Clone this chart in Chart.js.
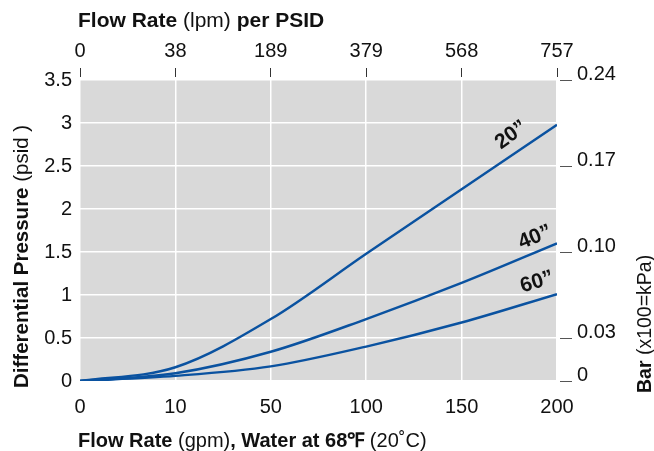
<!DOCTYPE html>
<html>
<head>
<meta charset="utf-8">
<script src="https://cdn.jsdelivr.net/npm/chart.js@4.4.1/dist/chart.umd.min.js"></script>
<style>
  html, body { margin: 0; padding: 0; background: #fff; }
  #wrap { width: 654px; height: 451px; }
</style>
</head>
<body>
<div id="wrap"><canvas id="flowChart" width="654" height="451"></canvas></div>
<script>
// flow rate tick labels (positions are evenly spaced on the chart)
const gpmLabels = ["0", "10", "50", "100", "150", "200"]
const lpmLabels = ["0", "38", "189", "379", "568", "757"]

// differential pressure (psid) at each flow tick
const size20 = [0, 0.16, 0.72, 1.48, 2.23, 2.98]
const size40 = [0, 0.09, 0.34, 0.72, 1.14, 1.60]
const size60 = [0, 0.06, 0.17, 0.40, 0.68, 1.01]

// right axis: bar labels at matching psid positions
const barTickPsi = [0, 0.5, 1.5, 2.5, 3.5]
const barTickLabels = ["0", "0.03", "0.10", "0.17", "0.24"]

const curveNames = ["20\u201D", "40\u201D", "60\u201D"]

const BLUE = "#0a52a0"
const FONT = "'Liberation Sans', Arial, Helvetica, sans-serif"

function toPoints(arr) {
  return arr.map((v, i) => ({ x: i, y: v }))
}

// label anchors in data units (flow index, psid) and angle
const curveLabelPos = [
  { x: 4.52, y: 2.86, rot: -36 },
  { x: 4.77, y: 1.67, rot: -22 },
  { x: 4.79, y: 1.15, rot: -17 }
]

const plotBg = {
  id: "plotBg",
  beforeDraw(chart) {
    const { ctx, chartArea: a } = chart
    ctx.save()
    ctx.fillStyle = "#d9d9d9"
    ctx.fillRect(a.left, a.top, a.right - a.left, a.bottom - a.top)
    ctx.restore()
  }
}

// draws a run of text pieces with mixed weight
function drawRuns(ctx, runs, x, y, size) {
  let cx = x
  runs.forEach(r => {
    ctx.font = (r[1] ? "bold " : "") + size + "px " + FONT
    ctx.fillText(r[0], cx, y)
    cx += ctx.measureText(r[0]).width
  })
}

const titles = {
  id: "titles",
  afterDraw(chart) {
    const ctx = chart.ctx
    ctx.save()
    ctx.fillStyle = "#111"
    ctx.textBaseline = "alphabetic"
    ctx.textAlign = "left"

    drawRuns(ctx, [["Flow Rate ", true], ["(lpm) ", false], ["per PSID", true]], 78, 27, 21)
    drawRuns(ctx, [["Flow Rate ", true], ["(gpm)", false], [", Water at 68\u2109 ", true], ["(20\u02DAC)", false]], 78, 447, 20)

    ctx.save()
    ctx.translate(28, 388)
    ctx.rotate(-Math.PI / 2)
    drawRuns(ctx, [["Differential Pressure ", true], ["(psid )", false]], 0, 0, 20.5)
    ctx.restore()

    ctx.save()
    ctx.translate(651, 393)
    ctx.rotate(-Math.PI / 2)
    drawRuns(ctx, [["Bar ", true], ["(x100=kPa)", false]], 0, 0, 19.5)
    ctx.restore()

    // curve size labels
    const xs = chart.scales.x, ys = chart.scales.y
    ctx.font = "bold 21px " + FONT
    ctx.textAlign = "center"
    ctx.textBaseline = "middle"
    curveNames.forEach((name, i) => {
      const p = curveLabelPos[i]
      ctx.save()
      ctx.translate(xs.getPixelForValue(p.x), ys.getPixelForValue(p.y))
      ctx.rotate(p.rot * Math.PI / 180)
      ctx.fillText(name, 0, 0)
      ctx.restore()
    })
    ctx.restore()
  }
}

const lineStyle = {
  borderColor: BLUE,
  borderWidth: 2.4,
  pointRadius: 0,
  fill: false,
  cubicInterpolationMode: "monotone"
}

new Chart(document.getElementById("flowChart"), {
  type: "line",
  data: {
    datasets: [
      Object.assign({ label: curveNames[0], data: toPoints(size20) }, lineStyle),
      Object.assign({ label: curveNames[1], data: toPoints(size40) }, lineStyle),
      Object.assign({ label: curveNames[2], data: toPoints(size60) }, lineStyle)
    ]
  },
  options: {
    responsive: false,
    animation: false,
    layout: { padding: 0 },
    plugins: { legend: { display: false }, tooltip: { enabled: false } },
    scales: {
      x: {
        type: "linear", position: "bottom", min: 0, max: 5,
        afterBuildTicks: s => { s.ticks = gpmLabels.map((_, i) => ({ value: i })) },
        afterFit: s => { s.height = 70 },
        border: { display: false },
        grid: { color: "#ffffff", lineWidth: 1.5, drawTicks: false },
        ticks: {
          callback: (v) => gpmLabels[v],
          color: "#111", padding: 14, maxRotation: 0,
          font: { family: FONT, size: 20 }
        }
      },
      x2: {
        type: "linear", position: "top", min: 0, max: 5,
        afterBuildTicks: s => { s.ticks = lpmLabels.map((_, i) => ({ value: i })) },
        afterFit: s => { s.height = 80 },
        border: { display: false },
        grid: {
          drawOnChartArea: false, tickLength: 12, tickColor: "#333", lineWidth: 1,
          tickBorderDash: [9, 100]
        },
        ticks: {
          callback: (v) => lpmLabels[v],
          color: "#111", padding: 5, maxRotation: 0,
          font: { family: FONT, size: 20 }
        }
      },
      y: {
        type: "linear", position: "left", min: 0, max: 3.5,
        afterFit: s => { s.width = 80 },
        border: { display: false },
        grid: { color: "#ffffff", lineWidth: 1.5, drawTicks: false },
        ticks: {
          stepSize: 0.5, color: "#111", padding: 8,
          callback: (v) => String(v),
          font: { family: FONT, size: 20 }
        }
      },
      y2: {
        type: "linear", position: "right", min: 0, max: 3.5,
        afterBuildTicks: s => { s.ticks = barTickPsi.map(v => ({ value: v })) },
        afterFit: s => { s.width = 97 },
        border: { display: false },
        grid: {
          drawOnChartArea: false, tickLength: 15, tickColor: "#555", lineWidth: 1,
          tickBorderDash: [0, 3, 12, 100]
        },
        ticks: {
          callback: (v) => barTickLabels[barTickPsi.indexOf(v)],
          color: "#111", padding: 5, labelOffset: -6,
          font: { family: FONT, size: 20 }
        }
      }
    }
  },
  plugins: [plotBg, titles]
})
</script>
</body>
</html>
